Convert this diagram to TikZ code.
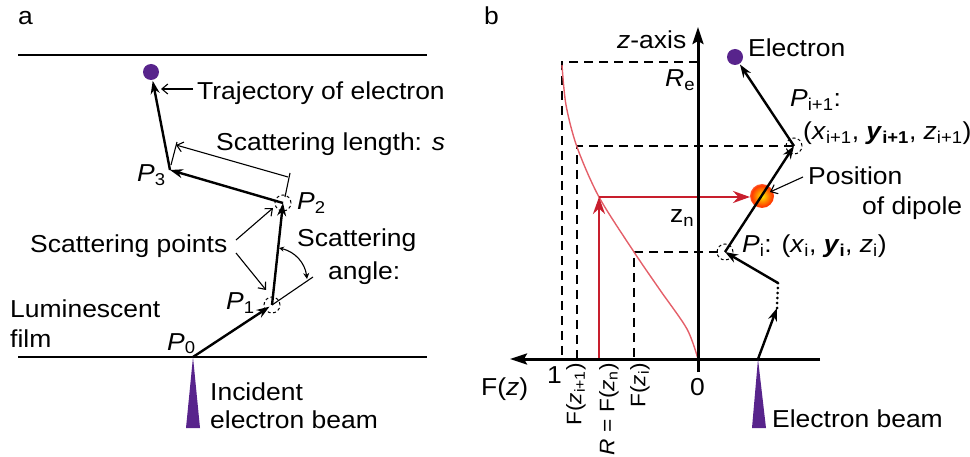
\documentclass[tikz,border=0pt]{standalone}
\usepackage{fontspec}
\setmainfont{Liberation Sans}[FakeStretch=1.08]
\usetikzlibrary{arrows.meta,positioning}
\definecolor{beampurple}{RGB}{88,36,140}
\definecolor{arrred}{RGB}{200,30,45}
\definecolor{curvred}{RGB}{228,95,105}
\newcommand{\sbs}[1]{\textsubscript{#1}}
\pgfdeclareradialshading{dipoleglow}{\pgfpoint{0bp}{0bp}}{color(0bp)=(yellow!85!orange); color(10bp)=(orange!80!yellow); color(22bp)=(red!55!orange); color(36bp)=(red!20); color(50bp)=(white)}

\begin{document}
\begin{tikzpicture}[x=1pt,y=-1pt,
    every node/.style={font=\fontsize{24.5}{29}\selectfont,inner sep=0pt},
    traj/.style={line width=2.4pt,-{Stealth[length=13pt,width=9pt]}},
    thinarr/.style={line width=1.1pt,-{Straight Barb[length=6pt,width=10pt]}},
    dashln/.style={line width=1.8pt,dash pattern=on 9pt off 6pt},
    spot/.style={line width=1pt,dash pattern=on 3pt off 2.5pt},
    redarr/.style={arrred,line width=2.6pt,-{Stealth[length=17pt,width=12pt]}},
    axisln/.style={line width=3pt,-{Stealth[length=17pt,width=11pt,inset=3pt]}},
    small/.style={font=\fontsize{21}{24}\selectfont}]
  \useasboundingbox (0,0) rectangle (970,457);

  % panel a
  \node[anchor=base west] (lbla) at (18,25) {a};
  \draw[line width=2.8pt] (18,55) -- (427,55);
  \draw[line width=2.8pt] (18,357) -- (427,357);

  \coordinate (P0) at (193,357);
  \coordinate (P1) at (272,305);
  \coordinate (P2) at (283,203);
  \coordinate (P3) at (170,170);
  \coordinate (ea) at (151,72);
  \fill[beampurple] (ea) circle (8pt);
  \fill[beampurple] (P0) -- (200,428) -- (186,428) -- cycle;
  \draw[spot] (P1) circle (8pt);
  \draw[spot] (P2) circle (8pt);
  \draw[traj,shorten >=3pt] (P0) -- (P1);
  \draw[traj] (P1) -- (P2);
  \draw[traj] (P2) -- (P3);
  \draw[traj,shorten >=9pt] (P3) -- (ea);

  % scattering length
  \coordinate (sa) at (176,145);
  \coordinate (sb) at (288,177);
  \draw[line width=1.1pt] (171,165) -- (177,142);
  \draw[line width=1.1pt] (285,197) -- (290,173);
  \draw[thinarr,{Straight Barb[length=6pt,width=10pt]}-] (sa) -- (sb);

  % scattering angle
  \coordinate (ext) at (313,277);
  \coordinate (anga) at (279,248);
  \coordinate (angb) at (307,279);
  \draw[line width=1.1pt] (P1) -- (ext);
  \draw[line width=1.1pt,{Stealth[length=5pt,width=5pt]}-{Stealth[length=6pt,width=6pt]}] (anga) to[bend left=35] (angb);

  \node[anchor=base west] (trajtxt) at (197,100) {Trajectory of electron};
  \coordinate (trajend) at (161,89);
  \draw[thinarr] (trajtxt.west |- trajend) ++(-4,0) -- (trajend);
  \node[anchor=base west] (lentxt) at (216,151) {Scattering length: \textit{s}};
  \node[anchor=base west] (p3txt) at (137,182) {\textit{P}\sbs{3}};
  \node[anchor=base west] (p2txt) at (297,210) {\textit{P}\sbs{2}};
  \node[anchor=base west] (p1txt) at (226,310) {\textit{P}\sbs{1}};
  \node[anchor=base west] (p0txt) at (167,350) {\textit{P}\sbs{0}};
  \node[anchor=base west] (pointstxt) at (30,253) {Scattering points};
  \coordinate (ptend) at (273,208);
  \coordinate (ptendb) at (266,290);
  \draw[thinarr] (236,240) -- (ptend);
  \draw[thinarr] (236,253) -- (ptendb);
  \node[anchor=base west] (angtxt) at (297,247) {Scattering};
  \node[anchor=base west] (angtxtb) at (328,280) {angle:};
  \node[anchor=base west] (filmtxt) at (10,317) {Luminescent};
  \node[anchor=base west] (filmtxtb) at (10,348) {film};
  \node[anchor=base west] (incitxt) at (210,400) {Incident};
  \node[anchor=base west] (incitxtb) at (210,428) {electron beam};

  % panel b
  \node[anchor=base west] (lblb) at (484,25) {b};
  \shade[shading=dipoleglow] (762,196) circle (12pt);

  \draw[dashln] (698,62) -- (562,62) -- (562,359);
  \draw[dashln] (793,146) -- (577,146) -- (577,359);
  \draw[dashln] (718,252) -- (634,252) -- (634,359);
  \draw[curvred,line width=1.4pt] plot[smooth] coordinates {(698,359) (687,329) (660,290) (634,252) (599,197) (577,147) (566,105) (562,65)};

  \draw[redarr] (599,359) -- (599,197);
  \draw[redarr] (599,197) -- (750,197);

  \draw[axisln] (698,372) -- (698,27);
  \draw[axisln] (820,359) -- (510,359);

  \coordinate (B0) at (758,359);
  \coordinate (Q1) at (777,308);
  \coordinate (Q2) at (778,283);
  \coordinate (Pi) at (725,252);
  \coordinate (Pj) at (794,146);
  \coordinate (eb) at (735,57);
  \fill[beampurple] (B0) -- (766,428) -- (752,428) -- cycle;
  \fill[beampurple] (eb) circle (8pt);
  \draw[spot] (Pi) circle (8pt);
  \draw[spot] (Pj) circle (8pt);
  \draw[traj] (B0) -- (Q1);
  \draw[line width=3pt,line cap=round,dash pattern=on 0pt off 5pt] (Q1) -- (Q2);
  \draw[traj] (Q2) -- (Pi);
  \draw[traj] (Pi) -- (Pj);
  \draw[traj,shorten >=9pt] (Pj) -- (eb);

  \node[anchor=base west] (zaxtxt) at (617,49) {\textit{z}-axis};
  \node[anchor=base west] (retxt) at (665,87) {\textit{R}\sbs{e}};
  \node[anchor=base west] (electxt) at (748,57) {Electron};
  \node[anchor=base west] (pjtxt) at (790,107) {\textit{P}\sbs{i+1}:};
  \node[anchor=base west] (pjxyz) at (803,140) {(\textit{x}\sbs{i+1}, \textbf{\textit{y}\sbs{i+1}}, \textit{z}\sbs{i+1})};
  \node[anchor=base west] (postxt) at (808,185) {Position};
  \node[anchor=base west] (postxtb) at (862,215) {of dipole};
  \coordinate (dipole) at (770,192);
  \draw[thinarr] (803,177) -- (dipole);
  \node[anchor=base west] (zntxt) at (670,223) {z\sbs{n}};
  \node[anchor=base west] (pitxt) at (742,253) {\textit{P}\sbs{i}: (\textit{x}\sbs{i}, \textbf{\textit{y}\sbs{i}}, \textit{z}\sbs{i})};
  \node[anchor=base west] (fztxt) at (481,395) {F(\textit{z})};
  \node[anchor=base west] (onetxt) at (547,383) {1};
  \node[anchor=base west] (zerotxt) at (690,395) {0};
  \node[anchor=base west] (ebtxt) at (772,427) {Electron beam};

  \node[small,rotate=90,anchor=east] (fzj) at (576,363) {F(\textit{z}\sbs{i+1})};
  \node[small,rotate=90,anchor=east] (fzn) at (609,363) {\textit{R} = F(\textit{z}\sbs{n})};
  \node[small,rotate=90,anchor=east] (fzi) at (640,363) {F(\textit{z}\sbs{i})};
\end{tikzpicture}
\end{document}
